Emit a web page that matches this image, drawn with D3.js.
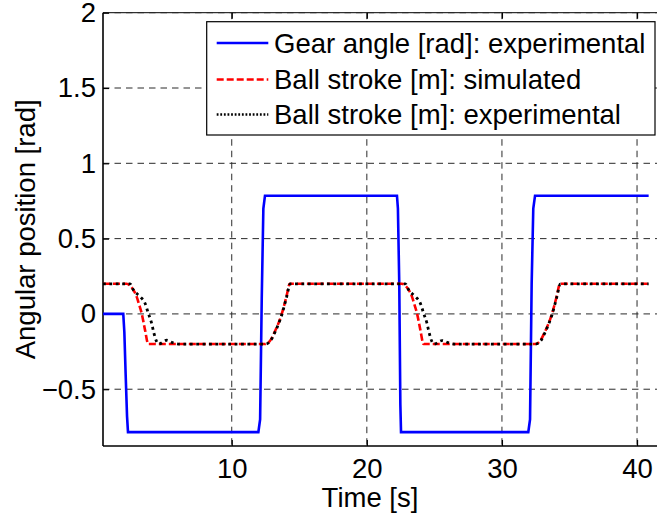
<!DOCTYPE html>
<html>
<head>
<meta charset="utf-8">
<script src="https://d3js.org/d3.v7.min.js"></script>
<style>
  body { margin: 0; background: #fff; }
  text { font-family: Arial, "Liberation Sans", sans-serif; fill: #000; }
</style>
</head>
<body>
<div id="container"></div>
<script>
// gear angle [rad], experimental
const gearTime  = [0.47, 1.97, 2.05, 2.15, 2.25, 2.32, 11.97, 12.1, 12.22, 12.34, 12.46, 22.23, 22.3, 22.4, 22.48, 22.53, 31.95, 32.08, 32.2, 32.32, 32.45, 40.86];
const gearAngle = [0, 0, -0.12, -0.41, -0.68, -0.785, -0.785, -0.7, 0.1, 0.7, 0.785, 0.785, 0.7, 0.2, -0.6, -0.785, -0.785, -0.7, 0.2, 0.7, 0.785, 0.785];

// ball stroke [m], simulated
const simTime   = [0.47, 2.22, 2.5, 2.75, 2.96, 3.15, 3.33, 3.58, 3.82, 12.45, 12.82, 13.19, 13.68, 14.05, 14.3, 22.6, 22.88, 23.13, 23.34, 23.53, 23.71, 23.96, 24.2, 32.45, 32.82, 33.19, 33.68, 34.05, 34.3, 40.86];
const simStroke = [0.2, 0.2, 0.185, 0.155, 0.115, 0.06, 0.005, -0.106, -0.2, -0.2, -0.18, -0.117, -0.007, 0.115, 0.2, 0.2, 0.185, 0.155, 0.115, 0.06, 0.005, -0.106, -0.2, -0.2, -0.18, -0.117, -0.007, 0.115, 0.2, 0.2];

// ball stroke [m], experimental
const expTime   = [0.47, 2.47, 2.71, 3.21, 3.58, 3.82, 4.07, 4.24, 4.44, 4.6, 5.18, 5.6, 6.17, 12.5, 12.86, 13.22, 13.7, 14.07, 14.33, 22.85, 23.09, 23.59, 23.96, 24.2, 24.45, 24.62, 24.82, 24.98, 25.56, 25.98, 26.55, 32.5, 32.86, 33.22, 33.7, 34.07, 34.33, 40.86];
const expStroke = [0.2, 0.2, 0.16, 0.115, 0.071, 0.005, -0.062, -0.128, -0.184, -0.2, -0.175, -0.19, -0.2, -0.2, -0.18, -0.117, -0.007, 0.115, 0.2, 0.2, 0.16, 0.115, 0.071, 0.005, -0.062, -0.128, -0.184, -0.2, -0.177, -0.19, -0.2, -0.2, -0.18, -0.117, -0.007, 0.115, 0.2, 0.2];

const xTicks = [10, 20, 30, 40];
const yTicks = [-0.5, 0, 0.5, 1, 1.5, 2];

const seriesNames = ["Gear angle [rad]: experimental",
                     "Ball stroke [m]: simulated",
                     "Ball stroke [m]: experimental"];

var draw = function(){

    var W = 657, H = 517;
    var pLeft = 103, pRight = 660, pTop = 12.7, pBottom = 446;
    var fs = "27.5px";

    var svg = d3.select("#container").append("svg")
	.attr("width", W)
	.attr("height", H);

    var x = d3.scaleLinear().domain([0.47, 41.7]).range([pLeft, pRight]);
    var y = d3.scaleLinear().domain([-0.877, 2]).range([pBottom, pTop]);

    svg.append("defs").append("clipPath").attr("id", "clip")
	.append("rect")
	.attr("x", pLeft).attr("y", pTop)
	.attr("width", pRight - pLeft).attr("height", pBottom - pTop);

    // grid
    var grid = svg.append("g").attr("clip-path", "url(#clip)");
    grid.selectAll("line.gx").data(xTicks).enter().append("line")
	.attr("x1", d => x(d)).attr("x2", d => x(d))
	.attr("y1", pTop).attr("y2", pBottom)
	.style("stroke", "#2a2a2a").style("stroke-width", 1)
	.style("stroke-dasharray", "6.5,5");
    grid.selectAll("line.gy").data(yTicks).enter().append("line")
	.attr("x1", pLeft).attr("x2", pRight)
	.attr("y1", d => y(d)).attr("y2", d => y(d))
	.style("stroke", "#2a2a2a").style("stroke-width", 1)
	.style("stroke-dasharray", "6.5,5");

    // axes box
    svg.append("line").attr("x1", pLeft).attr("x2", pRight).attr("y1", pTop).attr("y2", pTop)
	.style("stroke", "#000").style("stroke-width", 1);
    svg.append("line").attr("x1", pLeft).attr("x2", pRight).attr("y1", pBottom).attr("y2", pBottom)
	.style("stroke", "#000").style("stroke-width", 1.6);
    svg.append("line").attr("x1", pLeft).attr("x2", pLeft).attr("y1", pTop).attr("y2", pBottom)
	.style("stroke", "#000").style("stroke-width", 1.6);

    // ticks + labels
    var xAxis = d3.axisBottom(x).tickValues(xTicks).tickSize(-6).tickPadding(12).tickFormat(d3.format("d"));
    var gx = svg.append("g").attr("transform", "translate(0," + pBottom + ")").call(xAxis);
    gx.select(".domain").remove();

    var xTopAxis = d3.axisTop(x).tickValues(xTicks).tickSize(-6).tickFormat("");
    var gxt = svg.append("g").attr("transform", "translate(0," + pTop + ")").call(xTopAxis);
    gxt.select(".domain").remove();

    var yAxis = d3.axisLeft(y).tickValues(yTicks).tickSize(-6).tickPadding(7).tickFormat(d3.format("~g"));
    var gy = svg.append("g").attr("transform", "translate(" + pLeft + ",0)").call(yAxis);
    gy.select(".domain").remove();

    svg.selectAll(".tick line").style("stroke", "#000").style("stroke-width", 1.2);
    svg.selectAll(".tick text")
	.attr("font-size", null).attr("font-family", null)
	.style("font-size", fs);

    // series
    var mk = (t, v) => t.map((d, i) => [d, v[i]]);
    var plot = svg.append("g").attr("clip-path", "url(#clip)");

    var lin = d3.line().x(d => x(d[0])).y(d => y(d[1]));
    var smooth = d3.line().x(d => x(d[0])).y(d => y(d[1])).curve(d3.curveMonotoneX);

    plot.append("path").datum(mk(gearTime, gearAngle))
	.attr("d", lin)
	.style("fill", "none").style("stroke", "#0000ff").style("stroke-width", 2.6);

    plot.append("path").datum(mk(simTime, simStroke))
	.attr("d", smooth)
	.style("fill", "none").style("stroke", "#ff0000").style("stroke-width", 2.6)
	.style("stroke-dasharray", "7,3");

    plot.append("path").datum(mk(expTime, expStroke))
	.attr("d", smooth)
	.style("fill", "none").style("stroke", "#000").style("stroke-width", 2.8)
	.style("stroke-dasharray", "2.8,3.6");

    // axis labels
    svg.append("text")
	.attr("x", 370).attr("y", 507)
	.attr("text-anchor", "middle")
	.style("font-size", fs)
	.text("Time [s]");

    svg.append("text")
	.attr("transform", "translate(35," + ((pTop + pBottom) / 2) + ") rotate(-90)")
	.attr("text-anchor", "middle")
	.style("font-size", fs)
	.text("Angular position [rad]");

    // legend
    var lg = svg.append("g");
    lg.append("rect")
	.attr("x", 206.7).attr("y", 21.7)
	.attr("width", 448.3).attr("height", 113.3)
	.style("fill", "#fff").style("stroke", "#000").style("stroke-width", 1.2);

    var legStyles = [
	{color: "#0000ff", dash: null},
	{color: "#ff0000", dash: "7,3"},
	{color: "#000", dash: "1.8,1.8"}
    ];
    var legY = [43, 79.5, 114.5];

    seriesNames.forEach(function(name, i){
	lg.append("line")
	    .attr("x1", 216.7).attr("x2", 268.3)
	    .attr("y1", legY[i]).attr("y2", legY[i])
	    .style("stroke", legStyles[i].color).style("stroke-width", 2.4)
	    .style("stroke-dasharray", legStyles[i].dash);
	lg.append("text")
	    .attr("x", 274).attr("y", legY[i])
	    .attr("dy", "0.36em")
	    .style("font-size", fs)
	    .text(name);
    });
}

draw();
</script>
</body>
</html>
